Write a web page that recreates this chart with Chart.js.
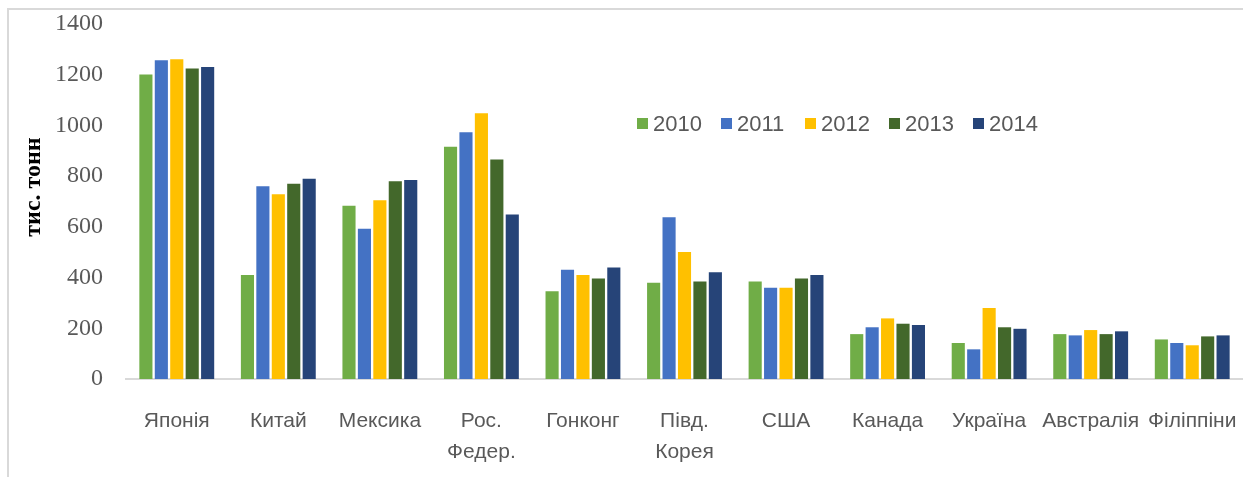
<!DOCTYPE html>
<html>
<head>
<meta charset="utf-8">
<script src="https://cdn.jsdelivr.net/npm/chart.js@4/dist/chart.umd.min.js"></script>
<style>
  html, body { margin: 0; padding: 0; background: #fff; }
  #wrap { position: relative; width: 1243px; height: 477px; overflow: hidden; }
  #frame { position: absolute; left: 7px; top: 8px; width: 1300px; height: 500px;
           border-left: 2px solid #d9d9d9; border-top: 2px solid #d9d9d9; }
  canvas { position: absolute; left: 0; top: 0; }
</style>
</head>
<body>
<div id="wrap">
  <div id="frame"></div>
  <canvas id="grafico" width="1243" height="477"></canvas>
</div>
<script>
const kraini = ["Японія", "Китай", "Мексика", ["Рос.", "Федер."], "Гонконг",
  ["Півд.", "Корея"], "США", "Канада", "Україна", "Австралія", "Філіппіни"];
const roky = ["2010", "2011", "2012", "2013", "2014"];
const kolory = ["#70AD47", "#4472C4", "#FFC000", "#43682B", "#264478"];

const v2010 = [1201, 410, 683, 916, 346, 380, 385, 177, 142, 177, 156];
const v2011 = [1257, 760, 593, 973, 431, 638, 360, 204, 117, 172, 142];
const v2012 = [1261, 729, 705, 1048, 410, 501, 360, 239, 280, 193, 133];
const v2013 = [1225, 770, 780, 866, 396, 385, 396, 218, 204, 177, 168];
const v2014 = [1230, 790, 785, 649, 440, 421, 410, 213, 198, 188, 172];
const znachennia = [v2010, v2011, v2012, v2013, v2014];

const sirij = "#595959";
const nazvaOsi = "тис. тонн";

// легенда всередині області графіка + підпис осі
const legendaPlugin = {
  id: "legendaVseredyni",
  afterDraw(chart) {
    const ctx = chart.ctx;
    ctx.save();
    ctx.font = "22px 'Liberation Sans'";
    ctx.textBaseline = "middle";
    let x = 637;
    const y = 124;
    chart.data.datasets.forEach((ds) => {
      ctx.fillStyle = ds.backgroundColor;
      ctx.fillRect(x, y - 6, 11, 11);
      ctx.fillStyle = sirij;
      ctx.fillText(ds.label, x + 16, y + 1);
      x += 84;
    });
    ctx.restore();

    ctx.save();
    ctx.translate(34, 187);
    ctx.rotate(-Math.PI / 2);
    ctx.font = "bold 24px 'Liberation Serif'";
    ctx.fillStyle = "#000";
    ctx.textAlign = "center";
    ctx.textBaseline = "middle";
    ctx.fillText(nazvaOsi, 0, 0);
    ctx.restore();
  },
};

new Chart(document.getElementById("grafico"), {
  type: "bar",
  data: {
    labels: kraini,
    datasets: roky.map((r, i) => ({
      label: r,
      data: znachennia[i],
      backgroundColor: kolory[i],
      borderWidth: 0,
      categoryPercentage: 0.76,
      barPercentage: 0.85,
    })),
  },
  options: {
    responsive: false,
    animation: false,
    layout: { padding: { top: 24, right: 0, bottom: 0, left: 0 } },
    plugins: { legend: { display: false }, tooltip: { enabled: false } },
    scales: {
      x: {
        grid: { display: false },
        border: { display: true, color: "#d9d9d9", width: 2 },
        ticks: {
          color: sirij,
          font: { family: "'Liberation Sans'", size: 21, lineHeight: 1.5 },
          padding: 18,
          maxRotation: 0,
          autoSkip: false,
        },
        afterFit(s) { s.height = 98; s.paddingLeft = 0; s.paddingRight = 0; },
      },
      y: {
        min: 0,
        max: 1400,
        grid: { display: false },
        border: { display: false },
        ticks: {
          stepSize: 200,
          color: sirij,
          font: { family: "'Liberation Serif'", size: 24 },
          padding: 15,
          callback: (v) => String(v),
        },
        afterFit(s) { s.width = 126; s.paddingTop = 0; s.paddingBottom = 0; },
      },
    },
  },
  plugins: [legendaPlugin],
});
</script>
</body>
</html>
